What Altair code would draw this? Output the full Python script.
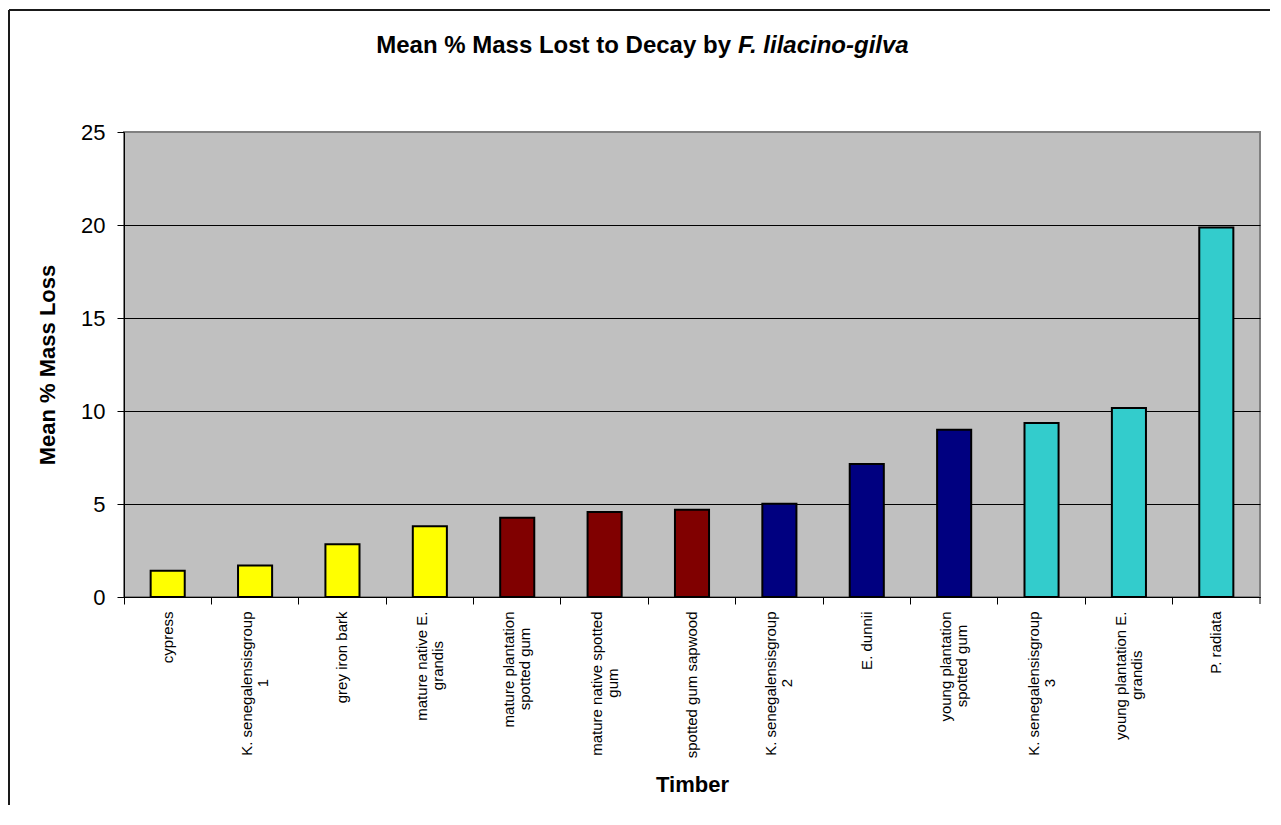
import altair as alt
import pandas as pd

categories = [
    "cypress",
    "K. senegalensisgroup\n1",
    "grey iron bark",
    "mature native E.\ngrandis",
    "mature plantation\nspotted gum",
    "mature native spotted\ngum",
    "spotted gum sapwood",
    "K. senegalensisgroup\n2",
    "E. dunnii",
    "young plantation\nspotted gum",
    "K. senegalensisgroup\n3",
    "young plantation E.\ngrandis",
    "P. radiata",
]
values = [1.41, 1.70, 2.83, 3.80, 4.26, 4.57, 4.69, 5.02, 7.15, 8.99, 9.35, 10.16, 19.87]
groups = ["A", "A", "A", "A", "B", "B", "B", "C", "C", "C", "D", "D", "D"]
group_names = ["A", "B", "C", "D"]
group_colors = ["#FFFF00", "#800000", "#000080", "#33CCCC"]
y_ticks = [0, 5, 10, 15, 20, 25]

title_plain = "Mean % Mass Lost to Decay by"
title_italic = "F. lilacino-gilva"

W, H = 1136, 465
FONT = "Liberation Sans"
LABEL_FS = 15
LABEL_LH = 16
LABEL_START = H + 7 + 7  # axis line + tick + label padding

# Arial / Liberation Sans advance widths (per em), used only to centre the
# second line of a wrapped category label under its first line.
_w = {" ": .278, ".": .278, "E": .667, "K": .667, "P": .667, "a": .556, "b": .556,
      "c": .5, "d": .556, "e": .556, "g": .556, "i": .222, "k": .5, "l": .222,
      "m": .833, "n": .556, "o": .556, "p": .556, "r": .333, "s": .5, "t": .278,
      "u": .556, "v": .5, "w": .722, "y": .5}


def _width(s):
    return sum(_w.get(ch, .556) for ch in s) * LABEL_FS


line2 = [c.split("\n")[1] if "\n" in c else "" for c in categories]
line2_pos = [LABEL_START + _width(c.split("\n")[0]) / 2 for c in categories]

df = pd.DataFrame({
    "timber": categories, "loss": values, "group": groups,
    "line2": line2, "line2_pos": line2_pos,
})

x_enc = alt.X(
    "timber:N",
    sort=categories,
    scale=alt.Scale(paddingInner=0, paddingOuter=0),
    axis=alt.Axis(
        title="Timber",
        titleFont=FONT,
        titleFontSize=22,
        titleFontWeight="bold",
        titleColor="black",
        titleX=W / 2,
        titleY=187,
        titleBaseline="middle",
        titleAlign="center",
        labelExpr="split(datum.label, '\\n')[0]",
        labelAngle=270,
        labelAlign="right",
        labelBaseline="middle",
        labelFont=FONT,
        labelFontSize=LABEL_FS,
        labelColor="black",
        labelPadding=7,
        labelOffset={"condition": {"test": "indexof(datum.label, '\\n') >= 0", "value": -LABEL_LH / 2}, "value": 0},
        bandPosition=0,
        tickSize=7,
        tickColor="black",
        domainColor="black",
        domainWidth=1,
        grid=False,
        labelOverlap=False,
    ),
)

bars = alt.Chart(df).mark_bar(
    width=alt.RelativeBandSize(0.39), stroke="black", strokeWidth=2
).encode(
    x=x_enc,
    y=alt.Y(
        "loss:Q",
        scale=alt.Scale(domain=[0, 25], nice=False),
        axis=alt.Axis(
            title="Mean % Mass Loss",
            titleFont=FONT,
            titleFontSize=22,
            titleFontWeight="bold",
            titleColor="black",
            titleAngle=270,
            titleX=-77,
            titleY=H / 2,
            titleAlign="center",
            titleBaseline="middle",
            values=y_ticks,
            labelFont=FONT,
            labelFontSize=22,
            labelColor="black",
            labelPadding=12,
            tickSize=7,
            tickColor="black",
            domainColor="black",
            domainWidth=1,
            grid=True,
            gridColor={"condition": {"test": "datum.value == 25", "value": "#808080"}, "value": "black"},
            gridWidth=1,
        ),
    ),
    color=alt.Color("group:N", scale=alt.Scale(domain=group_names, range=group_colors), legend=None),
)

second_lines = alt.Chart(df).mark_text(
    font=FONT, fontSize=LABEL_FS, angle=270, align="center", baseline="middle",
    color="black", dy=LABEL_LH / 2,
).encode(
    x=alt.X("timber:N", sort=categories),
    y=alt.Y("line2_pos:Q", scale=None),
    text="line2:N",
)

one = alt.Data(values=[{}])

end_tick = alt.Chart(one).mark_rule(color="black", strokeWidth=1).encode(
    x=alt.value(W), y=alt.value(H), y2=alt.value(H + 7)
)

t1 = alt.Chart(one).mark_text(
    font=FONT, fontSize=24, fontWeight="bold", align="right", baseline="alphabetic", color="black"
).encode(text=alt.value(title_plain), x=alt.value(607), y=alt.value(-79))

t2 = alt.Chart(one).mark_text(
    font=FONT, fontSize=24, fontWeight="bold", fontStyle="italic", align="left", baseline="alphabetic", color="black"
).encode(text=alt.value(title_italic), x=alt.value(614), y=alt.value(-79))

border_top = alt.Chart(one).mark_rule(color="#1a1a1a", strokeWidth=2).encode(
    x=alt.value(-115), x2=alt.value(W + 40), y=alt.value(-122)
)
border_left = alt.Chart(one).mark_rule(color="#1a1a1a", strokeWidth=2).encode(
    x=alt.value(-115), y=alt.value(-122), y2=alt.value(H + 300)
)

chart = alt.layer(bars, second_lines, end_tick, t1, t2, border_top, border_left).properties(
    width=W,
    height=H,
    autosize=alt.AutoSizeParams(type="none"),
    padding={"left": 116, "top": 124, "right": 10, "bottom": 208},
    background="white",
).configure_view(
    fill="#C0C0C0", stroke="#808080", strokeWidth=2
)

chart.save("out.html", embed_options={"renderer": "svg", "actions": False})
